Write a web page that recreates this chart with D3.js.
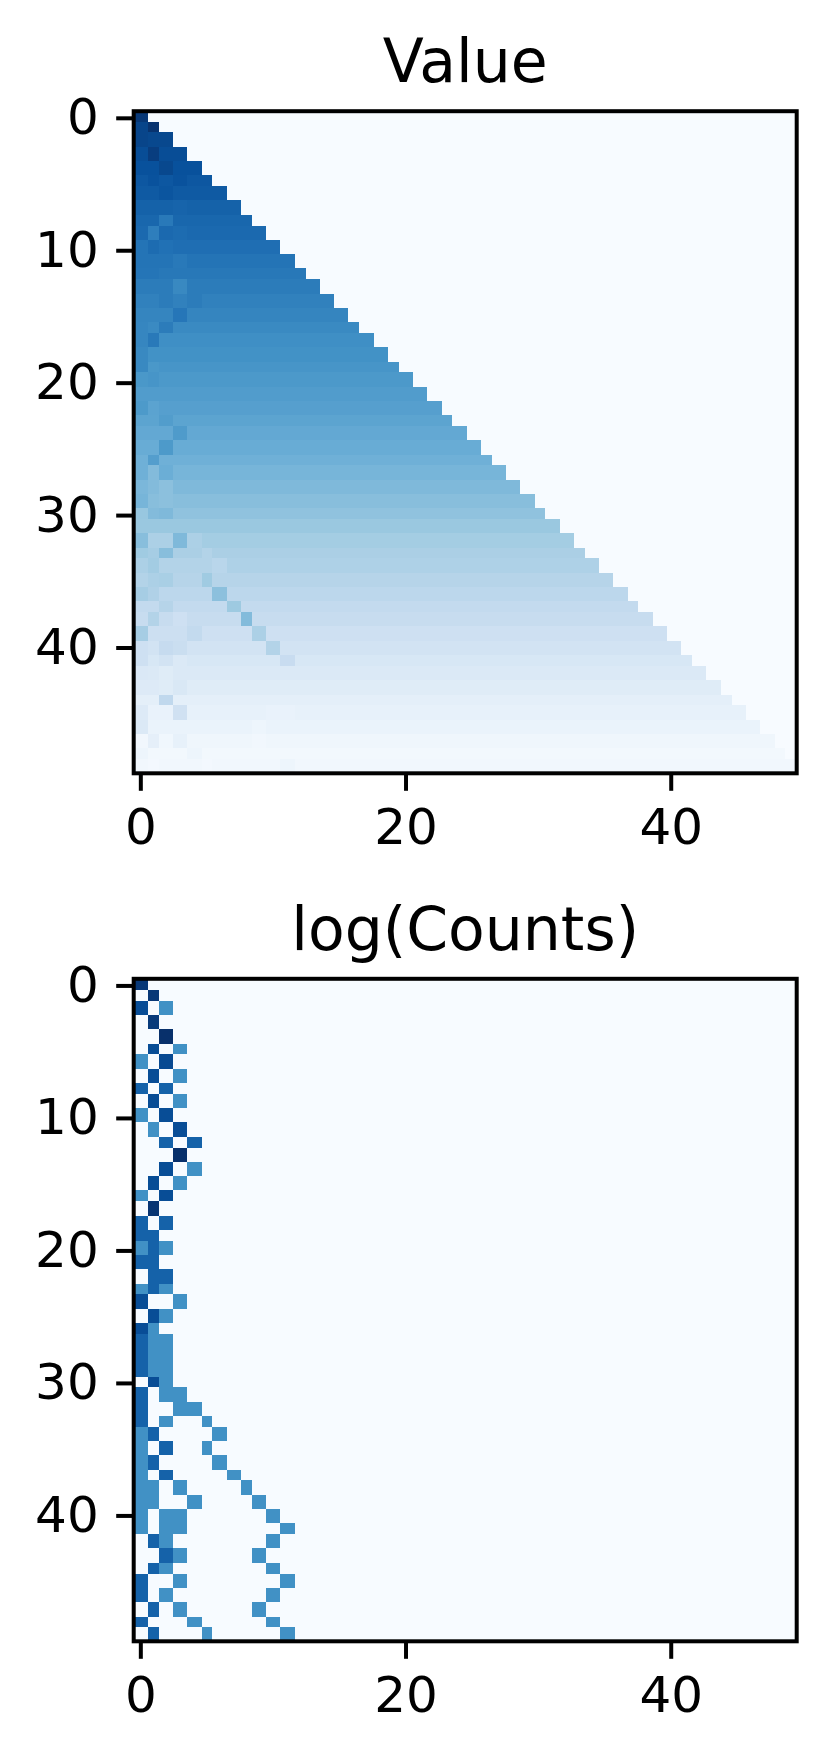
<!DOCTYPE html>
<html><head><meta charset="utf-8">
<script src="https://cdn.jsdelivr.net/npm/d3@7"></script>
<style>html,body{margin:0;padding:0;background:#fff}svg{display:block}text{font-family:"DejaVu Sans";fill:#000}</style>
</head><body><svg id="c" width="832" height="1760"></svg>
<script>
const titles = ["Value", "log(Counts)"];
const xTickLabels = [0, 20, 40];
const yTickLabels = [0, 10, 20, 30, 40];
const blues = ["#f7fbff","#deebf7","#c6dbef","#9ecae1","#6baed6","#4292c6","#2171b5","#08519c","#08306b"];
// Top panel: number of filled cells per row
const rowExtent = [1,2,3,4,5,6,7,8,9,10,11,12,13,14,15,16,17,18,19,20,21,22,23,24,25,26,27,28,29,30,31,32,33,34,35,36,37,38,39,40,41,42,43,44,45,46,47,48,49,50];
// Top panel: value shared by most cells of each row
const rowPlateau = [.97,.93,.91,.89,.875,.85,.84,.81,.79,.78,.76,.74,.725,.71,.69,.675,.655,.635,.625,.61,.595,.58,.565,.545,.525,.51,.49,.47,.45,.43,.41,.385,.355,.335,.325,.30,.28,.26,.245,.21,.19,.16,.14,.12,.095,.08,.065,.04,.025,.03];
// Top panel: cells that differ from the row's value [row, col, value]
const valueCells = [
[1,0,.92],[1,1,.99],[2,0,.92],[3,1,.95],[4,2,.91],[5,1,.87],[5,3,.87],[6,2,.86],[7,3,.80],
[8,2,.72],[9,1,.70],[9,0,.78],[9,3,.77],[10,0,.74],[10,1,.77],[10,2,.75],[11,3,.72],[12,0,.735],[12,1,.735],[13,3,.66],
[14,2,.71],[14,4,.71],[15,3,.73],[16,0,.67],[16,2,.71],[17,0,.67],[17,1,.72],[18,0,.66],[19,0,.66],[19,1,.60],
[20,0,.60],[20,1,.61],[22,0,.59],[22,1,.55],[23,2,.575],[24,3,.585],[25,2,.59],[26,1,.57],[27,0,.49],[27,1,.44],[27,2,.50],
[28,0,.46],[28,1,.44],[28,2,.42],[29,0,.47],[29,2,.42],[30,0,.39],[30,1,.44],[30,2,.45],
[32,0,.43],[32,1,.33],[32,2,.33],[32,3,.45],[32,4,.33],[33,0,.37],[33,1,.35],[33,2,.43],[33,5,.31],
[34,0,.33],[34,1,.36],[34,2,.31],[34,3,.31],[34,4,.31],[34,5,.31],[34,6,.29],
[35,0,.31],[35,1,.33],[35,2,.34],[35,5,.37],[36,0,.35],[36,1,.32],[36,6,.42],
[37,2,.30],[37,7,.375],[38,1,.31],[38,3,.21],[38,8,.44],
[39,0,.35],[39,1,.22],[39,2,.22],[39,3,.22],[39,4,.26],[39,9,.33],
[40,0,.21],[40,2,.25],[40,3,.23],[40,10,.31],[41,0,.21],[41,2,.19],[41,3,.14],[41,11,.24],
[42,0,.145],[42,2,.12],[43,0,.13],[43,1,.13],[43,3,.15],[44,2,.27],[45,0,.13],[45,1,.07],[45,2,.07],[45,3,.20],[45,10,.07],[45,11,.07],
[46,0,.14],[46,9,.05],[47,0,.03],[47,1,.09],[47,2,.035],[47,3,.08],[47,9,.03],[48,0,.05],[48,4,.05],[49,1,.02],[49,5,.02],[49,11,.05]
];
// Bottom panel: non-empty cells [row, col, value]
const countCells = [
[0,0,.97],[1,1,.97],[2,0,.89],[2,2,.63],[3,1,.96],[4,2,1],[5,1,.89],[5,3,.63],[6,0,.63],[6,2,.9],[7,1,.89],[7,3,.63],
[8,0,.81],[8,2,.81],[9,1,.89],[9,3,.63],[10,0,.63],[10,2,.89],[11,1,.63],[11,3,.89],[12,2,.81],[12,4,.81],[13,3,1],
[14,2,.89],[14,4,.63],[15,1,.89],[15,3,.63],[16,0,.63],[16,2,.89],[17,1,.98],[18,0,.81],[18,2,.81],[19,0,.81],[19,1,.81],
[20,0,.63],[20,1,.81],[20,2,.63],[21,0,.81],[21,1,.81],[22,1,.81],[22,2,.81],[23,0,.63],[23,1,.81],[23,2,.63],
[24,0,.89],[24,3,.63],[25,1,.89],[25,2,.63],[26,0,.89],[26,1,.63],[27,0,.81],[27,1,.63],[27,2,.63],[28,0,.81],[28,1,.63],[28,2,.63],
[29,0,.81],[29,1,.63],[29,2,.63],[30,1,.89],[30,2,.63],[31,0,.81],[31,2,.63],[31,3,.63],[32,0,.81],[32,3,.63],[32,4,.63],
[33,0,.81],[33,2,.63],[33,5,.63],[34,0,.63],[34,1,.81],[34,6,.63],[35,0,.63],[35,2,.81],[35,5,.63],[36,0,.63],[36,1,.81],[36,6,.63],
[37,0,.63],[37,2,.81],[37,7,.63],[38,0,.63],[38,1,.63],[38,3,.63],[38,8,.63],[39,0,.63],[39,1,.63],[39,4,.63],[39,9,.63],
[40,0,.63],[40,2,.63],[40,3,.63],[40,10,.63],[41,0,.63],[41,2,.63],[41,3,.63],[41,11,.63],[42,1,.81],[42,2,.63],[42,10,.63],
[43,2,.81],[43,3,.63],[43,9,.63],[44,1,.81],[44,2,.63],[44,10,.63],[45,0,.81],[45,3,.63],[45,11,.63],[46,0,.81],[46,2,.63],[46,10,.63],
[47,1,.81],[47,3,.63],[47,9,.63],[48,0,.81],[48,4,.63],[48,10,.63],[49,1,.81],[49,5,.63],[49,11,.63]
];

const svg = d3.select("#c");
const color = d3.scaleLinear().domain(blues.map((_, i) => i / (blues.length - 1))).range(blues).clamp(true);
const L = 133.7, R = 796.7, U = 3.58;
const panels = [
  {title: titles[0], top: 111.2, bottom: 773.3, gridY: 121.7},
  {title: titles[1], top: 978.8, bottom: 1641.3, gridY: 990}
];
const matrixTop = rowPlateau.map((p, r) => d3.range(50).map(c => c < rowExtent[r] ? p : 0));
valueCells.forEach(([r, c, v]) => { matrixTop[r][c] = v; });
const matrixBottom = d3.range(50).map(() => d3.range(50).map(() => 0));
countCells.forEach(([r, c, v]) => { matrixBottom[r][c] = v; });
const matrices = [matrixTop, matrixBottom];
// The reference's cells sit on a coarse pixel grid, so cell edges are snapped to it.
const snapIndex = d3.scaleLinear().domain([0.5, 1.5]).range([0, 3.72]);
const gridStep = v => Math.floor(snapIndex(v) + 0.23);

panels.forEach((p, i) => {
  const x = d3.scaleLinear().domain([-0.5, 49.5]).range([L, R]);
  const y = d3.scaleLinear().domain([-0.5, 49.5]).range([p.top, p.bottom]);
  const sx = v => v <= -0.5 ? L : v >= 49.5 ? R : 148 + U * gridStep(v);
  const sy = v => v <= -0.5 ? p.top : v >= 49.5 ? p.bottom : p.gridY + U * gridStep(v);
  const g = svg.append("g");
  g.append("rect").attr("x", L).attr("y", p.top).attr("width", R - L).attr("height", p.bottom - p.top).attr("fill", color(0));
  const cells = [];
  matrices[i].forEach((row, r) => row.forEach((v, c) => { if (v > 0) cells.push({r, c, v}); }));
  g.selectAll("rect.cell").data(cells).join("rect").attr("class", "cell")
    .attr("x", d => sx(d.c - 0.5)).attr("y", d => sy(d.r - 0.5))
    .attr("width", d => sx(d.c + 0.5) - sx(d.c - 0.5))
    .attr("height", d => sy(d.r + 0.5) - sy(d.r - 0.5))
    .attr("fill", d => color(d.v)).attr("shape-rendering", "crispEdges");
  const ax = d3.axisBottom(x).tickValues(xTickLabels).tickSize(17.5).tickPadding(17.5);
  const ay = d3.axisLeft(y).tickValues(yTickLabels).tickSize(17.5).tickPadding(17.5);
  const gx = svg.append("g").attr("transform", `translate(0,${p.bottom})`).call(ax);
  const gy = svg.append("g").attr("transform", `translate(${L},0)`).call(ay);
  [gx, gy].forEach(s => {
    s.select(".domain").remove();
    s.selectAll("line").attr("stroke", "#000").attr("stroke-width", 4);
    s.selectAll("text").attr("font-family", "DejaVu Sans").attr("font-size", 50).attr("fill", "#000");
  });
  svg.append("rect").attr("x", L).attr("y", p.top).attr("width", R - L).attr("height", p.bottom - p.top)
    .attr("fill", "none").attr("stroke", "#000").attr("stroke-width", 4);
  svg.append("text").attr("x", (L + R) / 2).attr("y", p.top - 29).attr("text-anchor", "middle")
    .attr("font-size", 60).text(p.title);
});
</script></body></html>
